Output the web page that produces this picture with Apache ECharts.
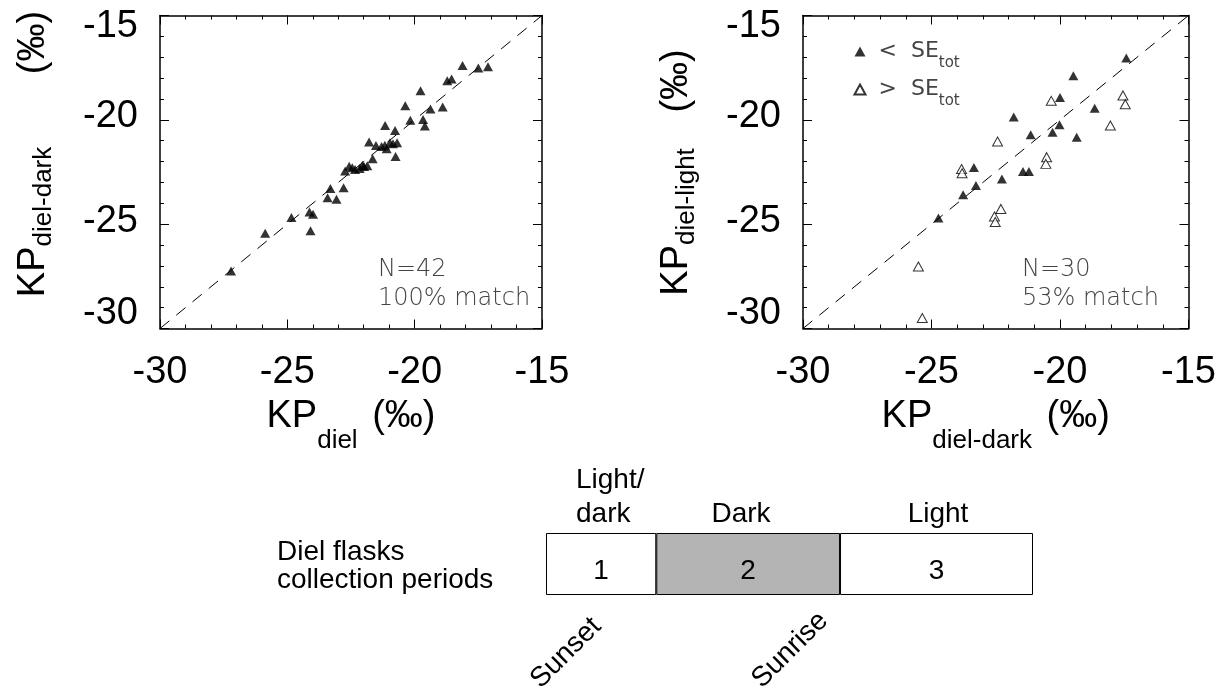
<!DOCTYPE html>
<html>
<head>
<meta charset="utf-8">
<script src="https://cdn.jsdelivr.net/npm/echarts@6/dist/echarts.min.js"></script>
<style>
html,body{margin:0;padding:0;background:#fff;}
#main{width:1228px;height:696px;}
</style>
</head>
<body>
<div id="main"></div>
<script>
// ---------------- data ----------------
const axisTicks = [-30, -25, -20, -15];
const oneToOne = [-30, -15];

// Left panel: KP_diel (x) vs KP_diel-dark (y), N = 42
const leftX = [-27.21,-25.87,-24.84,-24.13,-23.99,-24.09,-23.31,-23.42,-23.07,-22.79,-22.73,-22.57,-22.34,-22.16,-21.99,-21.86,-21.65,-21.79,-21.52,-21.17,-21.16,-21.10,-20.97,-20.77,-20.69,-20.75,-20.37,-20.17,-19.77,-19.67,-19.60,-19.38,-18.90,-18.72,-18.55,-18.12,-17.50,-17.12,-22.45,-21.30,-20.85,-22.05];
const leftY = [-27.24,-25.43,-24.68,-24.42,-24.52,-25.32,-23.29,-23.74,-23.80,-23.25,-22.45,-22.22,-22.38,-22.33,-22.24,-22.20,-21.86,-21.06,-21.23,-21.22,-20.27,-21.39,-21.10,-20.51,-21.10,-21.76,-19.33,-20.02,-18.61,-19.98,-20.30,-19.48,-19.38,-18.13,-18.04,-17.40,-17.52,-17.46,-22.30,-21.28,-21.15,-22.18];

// Right panel: KP_diel-dark (x) vs KP_diel-light (y), N = 30
const belowX = [-24.73,-23.77,-23.27,-23.35,-22.26,-21.80,-21.44,-21.21,-21.14,-20.29,-20.02,-20.00,-19.48,-19.35,-18.65,-17.42];
const belowY = [-24.71,-23.59,-23.15,-22.28,-22.84,-19.86,-22.48,-22.48,-20.72,-20.59,-20.24,-18.93,-17.89,-20.83,-19.44,-17.04];
const aboveX = [-25.51,-25.36,-23.83,-23.81,-22.55,-22.52,-22.30,-22.43,-20.52,-20.55,-20.34,-18.04,-17.55,-17.46];
const aboveY = [-27.03,-29.50,-22.36,-22.56,-24.63,-24.90,-24.27,-21.04,-21.79,-22.11,-19.09,-20.27,-18.83,-19.25];

// Bottom diagram: diel flask collection periods
const periodIds = ['1', '2', '3'];
const periodLengths = [3, 5, 5.25];
const periodNames = ['Light/\ndark', 'Dark', 'Light'];
const periodEdges = ['Sunset', 'Sunrise'];

// ---------------- styles ----------------
const SANS = '"Liberation Sans", Arial, Helvetica, sans-serif';
const THIN = '"DejaVu Sans", sans-serif';
const periodColors = ['#ffffff', '#b4b4b4', '#ffffff'];

const zip = (xs, ys) => xs.map((x, i) => [x, ys[i]]);

const grids = [
  {left: 160, top: 15.5, width: 382, height: 313},
  {left: 803, top: 15.5, width: 385.5, height: 313},
  {left: 546, top: 533, width: 487, height: 62}
];

const lineAxis = () => ({show: true, onZero: false, lineStyle: {color: '#000', width: 1.5}});
const tickStyle = () => ({show: true, inside: true, length: 9, lineStyle: {color: '#000', width: 1}});
const minorStyle = () => ({show: true, splitNumber: 5, length: 4, lineStyle: {color: '#000', width: 1}});

function xNameRich() {
  return {
    a: {fontSize: 38, fontFamily: SANS, lineHeight: 44, color: '#000'},
    b: {fontSize: 26, fontFamily: SANS, lineHeight: 26, color: '#000', padding: [48, 0, 0, 0]},
    c: {fontSize: 38, fontFamily: SANS, lineHeight: 44, color: '#000', padding: [0, 0, 0, 4]}
  };
}
function yNameRich(lead, gapBefore, trail) {
  return {
    a: {fontSize: 38, fontFamily: SANS, lineHeight: 44, color: '#000', padding: [0, 0, 0, lead]},
    b: {fontSize: 26, fontFamily: SANS, lineHeight: 26, color: '#000', padding: [20, 0, 0, 0]},
    c: {fontSize: 38, fontFamily: SANS, lineHeight: 44, color: '#000', padding: [0, trail, 0, gapBefore]}
  };
}
function baseAxis(gi) {
  return {
    type: 'value', gridIndex: gi, min: axisTicks[0], max: axisTicks[axisTicks.length - 1], interval: 5,
    axisLine: lineAxis(), axisTick: tickStyle(), minorTick: minorStyle(), splitLine: {show: false}
  };
}

function xAxisPair(gi, sub) {
  return [
    Object.assign(baseAxis(gi), {
      position: 'bottom',
      axisLabel: {show: true, fontSize: 38, fontFamily: SANS, color: '#000', margin: 24, lineHeight: 40},
      name: '{a|KP}{b|' + sub + '}{c| (‰)}', nameLocation: 'middle', nameGap: 66, nameRotate: 0,
      nameMoveOverlap: false,
      nameTextStyle: {color: '#000', fontSize: 38, fontFamily: SANS, rich: xNameRich()}
    }),
    Object.assign(baseAxis(gi), {position: 'top', axisLabel: {show: false}})
  ];
}
function yLabelRich() {
  return {
    t: {fontSize: 38, fontFamily: SANS, color: '#000', padding: [22, 0, 0, 0]},
    m: {fontSize: 38, fontFamily: SANS, color: '#000', padding: [0, 0, 6, 0]},
    d: {fontSize: 38, fontFamily: SANS, color: '#000', padding: [0, 0, 30, 0]}
  };
}
function yAxisPair(gi, sub, lead, gapBefore, trail) {
  return [
    Object.assign(baseAxis(gi), {
      position: 'left',
      axisLabel: {
        show: true, margin: 22,
        formatter: v => {
          const k = v === axisTicks[axisTicks.length - 1] ? 't' : (v === axisTicks[0] ? 'd' : 'm');
          return '{' + k + '|' + v + '}';
        },
        rich: yLabelRich()
      },
      name: '{a|KP}{b|' + sub + '}{c| (‰)}', nameLocation: 'middle', nameGap: 104, nameRotate: 90,
      nameMoveOverlap: false,
      nameTextStyle: {color: '#000', fontSize: 38, fontFamily: SANS, rich: yNameRich(lead, gapBefore, trail)}
    }),
    Object.assign(baseAxis(gi), {position: 'right', axisLabel: {show: false}})
  ];
}

const xAxes = [].concat(
  xAxisPair(0, 'diel'),
  xAxisPair(1, 'diel-dark'),
  [{type: 'value', gridIndex: 2, min: 0, max: periodLengths.reduce((a, b) => a + b, 0), show: false}]
);
const yAxes = [].concat(
  yAxisPair(0, 'diel-dark', 36, 62, 0),
  yAxisPair(1, 'diel-light', 0, 25, 1),
  [{type: 'category', gridIndex: 2, data: ['periods'], show: false}]
);

const triSize = [10, 9];
const series = [
  {type: 'line', xAxisIndex: 0, yAxisIndex: 0, data: oneToOne.map(v => [v, v]), symbol: 'none',
   lineStyle: {color: '#000', width: 1, type: [12, 9]}, z: 1, silent: true},
  {type: 'scatter', name: 'all', xAxisIndex: 0, yAxisIndex: 0, data: zip(leftX, leftY),
   symbol: 'triangle', symbolSize: triSize, itemStyle: {color: '#000'}, z: 3},
  {type: 'line', xAxisIndex: 2, yAxisIndex: 2, data: oneToOne.map(v => [v, v]), symbol: 'none',
   lineStyle: {color: '#000', width: 1, type: [12, 9]}, z: 1, silent: true},
  {type: 'scatter', name: 'below', xAxisIndex: 2, yAxisIndex: 2, data: zip(belowX, belowY),
   symbol: 'triangle', symbolSize: triSize, itemStyle: {color: '#000'}, z: 3},
  {type: 'scatter', name: 'above', xAxisIndex: 2, yAxisIndex: 2, data: zip(aboveX, aboveY),
   symbol: 'triangle', symbolSize: triSize, itemStyle: {color: '#fff', borderColor: '#000', borderWidth: 1}, z: 3}
].concat(periodLengths.map((len, i) => ({
  type: 'bar', stack: 'periods', xAxisIndex: 4, yAxisIndex: 4, data: [len], barWidth: '100%',
  itemStyle: {color: periodColors[i], borderColor: '#000', borderWidth: 1},
  label: {show: true, position: 'inside', formatter: periodIds[i], fontSize: 28, fontFamily: SANS, color: '#000', offset: [0, 7]},
  silent: true
})));

const legendRich = {
  p: {fontSize: 22, fontFamily: THIN, color: '#444', lineHeight: 26, padding: [0, 0, 0, 8]},
  s: {fontSize: 22, fontFamily: THIN, color: '#444', lineHeight: 26},
  u: {fontSize: 15, fontFamily: THIN, color: '#444', lineHeight: 16, padding: [24, 0, 0, 0]}
};

const thinText = (x, y, text) => ({
  type: 'text', x: x, y: y, silent: true,
  style: {text: text, fontSize: 24, fontFamily: THIN, fontWeight: 200, fill: '#444', align: 'left', verticalAlign: 'middle'}
});
const sansText = (x, y, text, align, extra) => ({
  type: 'text', x: x, y: y, silent: true,
  style: Object.assign({text: text, fontSize: 28, fontFamily: SANS, fill: '#000', align: align, verticalAlign: 'middle'}, extra || {})
});

const option = {
  animation: false,
  backgroundColor: '#fff',
  grid: grids,
  xAxis: xAxes,
  yAxis: yAxes,
  legend: {
    show: true, orient: 'vertical', left: 848.5, top: 27, itemWidth: 11, itemHeight: 10, itemGap: -1,
    data: ['below', 'above'], selectedMode: false,
    formatter: n => n === 'below' ? '{p|<}{s|  SE}{u|tot}' : '{p|>}{s|  SE}{u|tot}',
    textStyle: {rich: legendRich}
  },
  series: series,
  graphic: [
    thinText(378, 270, 'N=42'),
    thinText(378, 299, '100% match'),
    thinText(1022, 270, 'N=30'),
    thinText(1022, 299, '53% match'),
    sansText(277, 566, 'Diel flasks\ncollection periods', 'left', {lineHeight: 28}),
    sansText(576, 497, periodNames[0], 'left', {lineHeight: 34}),
    sansText(741, 514, periodNames[1], 'center'),
    sansText(938, 514, periodNames[2], 'center'),
    Object.assign(sansText(566, 653, periodEdges[0], 'center'), {rotation: Math.PI / 4}),
    Object.assign(sansText(790, 650, periodEdges[1], 'center'), {rotation: Math.PI / 4})
  ]
};

const chart = echarts.init(document.getElementById('main'), null, {renderer: 'canvas', devicePixelRatio: 1});
chart.setOption(option);
</script>
</body>
</html>
